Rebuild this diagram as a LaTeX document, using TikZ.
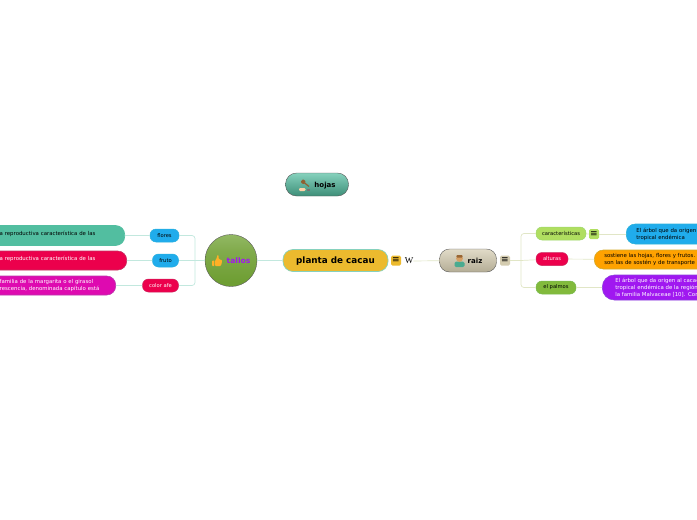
\documentclass[tikz,border=0pt]{standalone}
\usepackage{fontspec}
\setmainfont{DejaVu Sans}
\newfontfamily\wikifont{Liberation Serif}
\usetikzlibrary{calc,positioning}
\definecolor{cacao}{RGB}{236,186,46}
\definecolor{seagreen}{RGB}{82,190,160}
\definecolor{rose}{RGB}{236,0,76}
\definecolor{fuchsia}{RGB}{222,10,176}
\definecolor{sky}{RGB}{32,172,236}
\definecolor{lime}{RGB}{176,222,96}
\definecolor{moss}{RGB}{130,186,60}
\definecolor{amber}{RGB}{255,162,0}
\definecolor{grape}{RGB}{160,24,240}
\definecolor{sand}{RGB}{212,204,176}
\definecolor{skin}{RGB}{214,160,100}
\pgfdeclareverticalshading{stemshade}{100bp}{
  color(0bp)=(moss!70!white!85!black); color(12bp)=(moss!85!black); color(30bp)=(moss!85!black);
  color(60bp)=(moss!75!gray); color(100bp)=(moss!60!white!90!gray)}
\tikzset{
  topic/.style={rounded corners=#1,draw=black!65,font=\fontsize{7}{8}\selectfont\bfseries,
    inner sep=0pt,align=center,text height=1.1ex,text depth=0pt},
  topic/.default=10pt,
  leaf/.style={rounded corners=9pt,fill=#1,draw=#1!75!seagreen,line width=.6pt,
    font=\fontsize{5.4}{7.2}\selectfont,inner xsep=10pt,inner ysep=0pt,align=left},
  tag/.style={rounded corners=6pt,fill=#1,draw=#1!80!seagreen,line width=.5pt,
    font=\fontsize{5.2}{6}\selectfont,inner sep=0pt,align=center,minimum height=13pt},
  menu/.style={fill=#1,rounded corners=1.5pt,minimum size=10pt,inner sep=0pt,
    font=\fontsize{9}{9}\selectfont},
  branch/.style={draw=seagreen!35,line width=.7pt,rounded corners=3pt},
  rootline/.style={draw=lime!30!sand!55,line width=.7pt,rounded corners=3pt},
  % pictograms
  pics/thumb/.style={code={
    \fill[#1,rounded corners=.8pt] (-5,0) rectangle (-2.6,5.5);
    \fill[#1,rounded corners=1pt] (-2,0) -- (0,-2.5) -- (0,-5.5) -- (1.6,-5.5) -- (1.8,-1) -- (5,-1) -- (5,1) -- (4,5.5) -- (-2,5.5) -- cycle;
  }},
  pics/thumb/.default=amber!85!white,
  pics/person/.style={code={
    \fill[seagreen!90!black,rounded corners=1.5pt] (-5,6.5) -- (-5,1) -- (5,1) -- (5,6.5) -- cycle;
    \fill[#1] (0,-2) circle (3.4);
    \fill[brown!80!black,rounded corners=1pt] (-3.3,-3) -- (-3,-5.5) -- (3,-5.5) -- (3.3,-3) -- cycle;
  }},
  pics/person/.default=skin,
  pics/gavel/.style={code={
    \fill[#1,rounded corners=1pt] (-4,-3) -- (-1.5,-6) -- (1.5,-3.5) -- (-1,-.5) -- cycle;
    \draw[#1,line width=1.2pt] (-.5,-2.5) -- (4.5,1.5);
    \fill[orange!35!white,rounded corners=1.2pt] (-5.5,3) rectangle (1,6);
    \fill[black!55] (2,3.5) rectangle (5,5.5);
  }},
  pics/gavel/.default=brown!75!black,
}
\begin{document}
\begin{tikzpicture}[x=1pt,y=-1pt]
  \clip (0,0) rectangle (697,520);
  \useasboundingbox (0,0) rectangle (697,520);
  % centre
  \node[rounded corners=10pt,fill=cacao,draw=seagreen!70,line width=.7pt,minimum width=105pt,minimum height=22pt,
    font=\fontsize{8.8}{10}\selectfont\bfseries,text height=1.1ex,text depth=0pt] (plant) at (335.5,260.5) {planta de cacau};
  \node[menu=cacao] (plantmenu) at (396,260.5) {≡};
  \node[font=\wikifont\fontsize{9}{9}\selectfont,inner sep=0pt] (wiki) at (409,261) {W};
  % main topics
  \node[topic=11pt,top color=seagreen!70!white,bottom color=seagreen!75!black,
    minimum width=63pt,minimum height=23pt] (leaves) at (317,184.5) {\hspace*{16pt}hojas};
  \pic at (304.5,185) {gavel};
  \node[circle,draw=black!65,shading=stemshade,minimum size=52pt,inner sep=0pt] (stems) at (231,260.5) {};
  \node[font=\fontsize{7.6}{9}\selectfont\bfseries,text=grape,inner sep=0pt,text height=1.1ex,text depth=0pt] (stemstext) at (238.5,260.5) {tallos};
  \pic at (217,260.5) {thumb};
  \node[topic=10pt,top color=sand!70!white,bottom color=sand!85!black,minimum width=57pt,minimum height=23pt] (root) at (468,260.5) {\hspace*{14pt}raiz};
  \pic at (459.5,260.5) {person};
  \node[menu=sand] (rootmenu) at (505,260.5) {≡};
  % stems subtopics
  \node[tag=sky,minimum width=29pt] (flowers) at (164.5,235.5) {flores};
  \node[tag=sky,minimum width=26pt] (fruit) at (165.5,260.5) {fruto};
  \node[tag=rose,minimum width=36pt,text=white] (colour) at (160.5,285.5) {color afe};
  \node[leaf=seagreen,anchor=east,text width=115pt,minimum height=20pt,text depth=4pt] (flowersleaf) at (125,235.5) {a reproductiva característica de las};
  \node[leaf=rose,anchor=east,text width=117pt,minimum height=19pt,text depth=4pt,text=white] (fruitleaf) at (127,260.5) {a reproductiva característica de las};
  \node[leaf=fuchsia,anchor=east,text width=106pt,minimum height=19pt,text=white] (colourleaf) at (116,285.5)
    {familia de la margarita o el girasol\\rescencia, denominada capítulo está};
  % root subtopics
  \node[tag=lime,minimum width=50pt] (traits) at (561,233.5) {características};
  \node[tag=rose,minimum width=32pt,text=white] (heights) at (552,259) {alturas};
  \node[tag=moss,minimum width=40pt] (palms) at (556,287.5) {el palmos};
  \node[menu=lime] (traitsmenu) at (594,234) {≡};
  \node[leaf=sky,anchor=west,text width=110pt,minimum height=20pt] (traitsleaf) at (626,234) {El árbol que da origen\\tropical endémica};
  \node[leaf=amber,anchor=west,text width=110pt,minimum height=19pt] (heightsleaf) at (594,259.5) {sostiene las hojas, flores y frutos.\\son las de sostén y de transporte};
  \node[leaf=grape,rounded corners=12pt,anchor=west,text width=110pt,minimum height=25pt,text=white,inner xsep=13pt] (palmsleaf) at (602,287.5)
    {El árbol que da origen al cacao\\tropical endémica de la región\\la familia Malvaceae [10]. Con};
  % connectors
  \coordinate (stemtrunk) at (195,260.5);
  \coordinate (roottrunk) at (521,260.5);
  \draw[branch] (plant) -- (stems);
  \draw[branch] (stems) -- (fruit);
  \draw[branch] (stemtrunk) |- (flowers);
  \draw[branch] (stemtrunk) |- (colour);
  \draw[branch] (flowers) -- (flowersleaf);
  \draw[branch] (fruit) -- (fruitleaf);
  \draw[branch] (colour) -- (colourleaf);
  \draw[rootline] (wiki) -- (root);
  \draw[rootline] (rootmenu) -- (roottrunk);
  \draw[rootline] (roottrunk) |- (traits);
  \draw[rootline] (roottrunk) -- (heights);
  \draw[rootline] (roottrunk) |- (palms);
  \draw[rootline] (traits) -- (traitsmenu);
  \draw[rootline] (traitsmenu) -- (traitsleaf);
  \draw[rootline] (heights) -- (heightsleaf);
  \draw[rootline] (palms) -- (palmsleaf);
\end{tikzpicture}
\end{document}
